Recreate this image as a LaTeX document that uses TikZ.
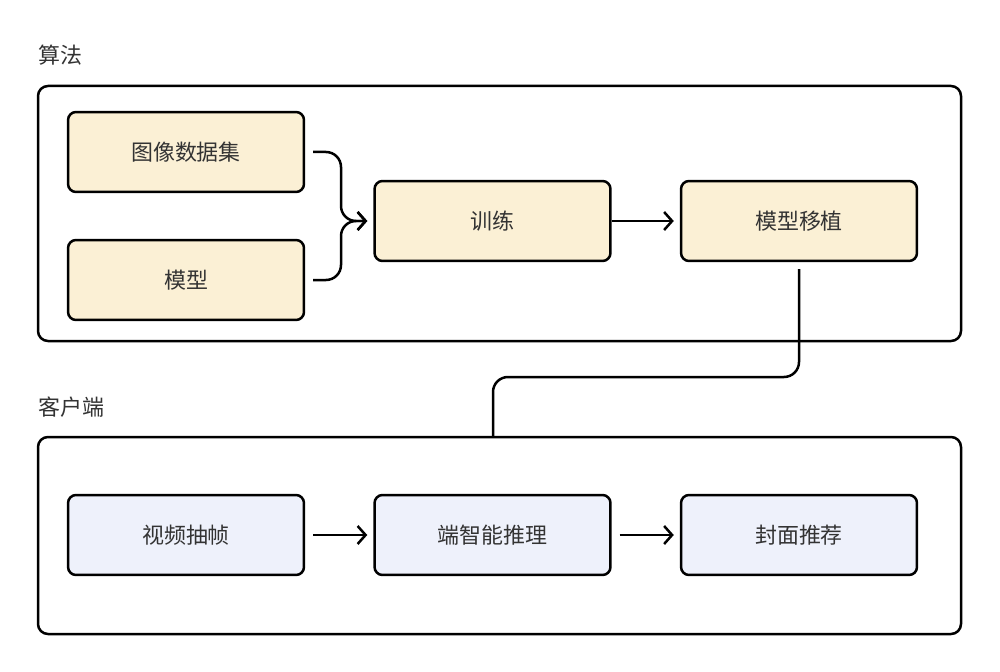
\documentclass[tikz,border=0pt]{standalone}
\usepackage{fontspec}
\setmainfont{Noto Sans CJK SC}
\usetikzlibrary{arrows.meta}
\definecolor{ybox}{HTML}{FBF0D5}
\definecolor{bbox}{HTML}{EEF1FB}
\definecolor{txt}{HTML}{333333}
\tikzset{
  frame/.style={draw=black, line width=0.05cm, rounded corners=0.2cm},
  stepbox/.style={draw=black, line width=0.05cm, rounded corners=0.16cm, minimum width=4.72cm, minimum height=1.6cm, inner sep=0pt, font=\fontsize{12.5}{14}\selectfont, text=txt},
  ynode/.style={stepbox, fill=ybox},
  bnode/.style={stepbox, fill=bbox},
  conn/.style={draw=black, line width=0.05cm, rounded corners=0.3cm},
  arr/.style={conn, -{Straight Barb[length=0.16cm, width=0.36cm, line width=0.05cm]}},
  lbl/.style={font=\fontsize{12.5}{14}\selectfont, text=txt, anchor=west, inner sep=0pt}
}
\begin{document}
\begin{tikzpicture}[x=0.02cm, y=-0.02cm]
\useasboundingbox (0,0) rectangle (1000,672);
\fill[white] (0,0) rectangle (1000,672);
% frames
\node[lbl] (algo) at (38,55) {算法};
\node[lbl] (client) at (38,407) {客户端};
\draw[frame] (38,86) rectangle (961,341);
\draw[frame] (38,437) rectangle (961,634);
\coordinate (ctop) at (493,437);
% top boxes
\node[ynode] (img) at (186,152) {图像数据集};
\node[ynode] (model) at (186,280) {模型};
\node[ynode] (train) at (492.5,221) {训练};
\node[ynode] (port) at (799,221) {模型移植};
% bottom boxes
\node[bnode] (frames) at (186,535) {视频抽帧};
\node[bnode] (infer) at (492.5,535) {端智能推理};
\node[bnode] (cover) at (799,535) {封面推荐};
% connectors
\draw[arr] ([xshift=0.16cm]img.east) -| (341,221) -- ([xshift=-0.12cm]train.west);
\draw[arr] ([xshift=0.16cm]model.east) -| (341,221) -- ([xshift=-0.12cm]train.west);
\draw[arr, rounded corners=0pt] (train.east) -- ([xshift=-0.12cm]port.west);
\draw[conn] ([yshift=-0.14cm]port.south) -- (799,377) -- (493,377) -- (ctop);
\draw[arr, rounded corners=0pt] ([xshift=0.16cm]frames.east) -- ([xshift=-0.12cm]infer.west);
\draw[arr, rounded corners=0pt] ([xshift=0.16cm]infer.east) -- ([xshift=-0.12cm]cover.west);
\end{tikzpicture}
\end{document}
